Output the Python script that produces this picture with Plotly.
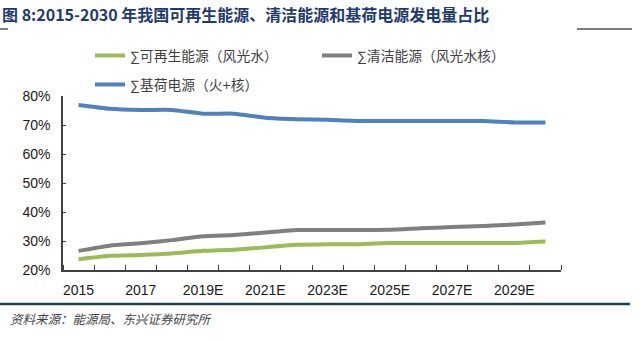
import plotly.graph_objects as go

categories = ["2015", "2016", "2017", "2018E", "2019E", "2020E", "2021E", "2022E",
              "2023E", "2024E", "2025E", "2026E", "2027E", "2028E", "2029E", "2030E"]
tick_labels = ["2015", "2017", "2019E", "2021E", "2023E", "2025E", "2027E", "2029E"]

renewable = [23.7, 24.9, 25.2, 25.7, 26.6, 27.0, 27.8, 28.7,
             28.9, 28.9, 29.3, 29.3, 29.3, 29.3, 29.3, 29.8]
clean = [26.6, 28.4, 29.2, 30.3, 31.6, 32.1, 32.9, 33.8,
         33.8, 33.8, 33.9, 34.4, 34.8, 35.2, 35.7, 36.4]
baseload = [76.9, 75.6, 75.2, 75.2, 73.9, 73.9, 72.5, 72.0,
            71.8, 71.4, 71.4, 71.4, 71.4, 71.4, 70.9, 70.9]

names = ["∑可再生能源（风光水）", "∑清洁能源（风光水核）", "∑基荷电源（火+核）"]
colors = ["#9BBB59", "#7F7F7F", "#4F81BD"]
y_ticks = [20, 30, 40, 50, 60, 70, 80]

xi = list(range(len(categories)))
tickpos = [categories.index(t) for t in tick_labels]

fig = go.Figure()
for vals, name, col, leg in zip([renewable, clean, baseload], names, colors,
                                ["legend", "legend2", "legend3"]):
    fig.add_trace(go.Scatter(
        x=xi, y=vals, name=name, mode="lines", showlegend=True,
        line=dict(color=col, width=4, shape="spline", smoothing=0.5),
        legend=leg, hoverinfo="skip"))

legend_font = dict(family="Liberation Sans, Noto Sans CJK SC", size=13.8, color="#404040")


def leg(xpx, ypx):
    return dict(orientation="h", xref="container", yref="container",
                x=xpx / 640, y=1 - ypx / 340, xanchor="left", yanchor="top",
                font=legend_font, bgcolor="rgba(0,0,0,0)", visible=True)


fig.update_layout(
    width=640, height=340, showlegend=True,
    margin=dict(l=63, r=79, t=96, b=70, autoexpand=False),
    paper_bgcolor="white", plot_bgcolor="white",
    legend=leg(90, 40),
    legend2=leg(317, 40),
    legend3=leg(90, 69),
    xaxis=dict(
        range=[-0.5, len(categories) - 0.5],
        tickmode="array", tickvals=tickpos, ticktext=tick_labels,
        ticks="", showgrid=False, zeroline=False,
        showline=True, linecolor="#404040", linewidth=1.5,
        tickfont=dict(family="Liberation Sans, Arial", size=14, color="#1a1a1a"),
        ticklabelstandoff=6,
        minor=dict(tickmode="array",
                   tickvals=[i - 0.5 for i in range(len(categories) + 1)],
                   ticks="inside", ticklen=5, tickwidth=1.2, tickcolor="#404040",
                   showgrid=False),
    ),
    yaxis=dict(
        range=[20, 80], tickmode="array", tickvals=y_ticks,
        ticktext=[f"{v}%" for v in y_ticks],
        ticks="inside", ticklen=3, tickwidth=1.2, tickcolor="#404040",
        showgrid=False, zeroline=False,
        showline=True, linecolor="#404040", linewidth=1.5,
        tickfont=dict(family="Liberation Sans, Arial", size=14, color="#1a1a1a"),
        ticklabelstandoff=8,
    ),
)

# title
fig.add_annotation(
    text="<b>图 8:2015-2030 年我国可再生能源、清洁能源和基荷电源发电量占比</b>",
    xref="paper", yref="paper", x=-63 / 498, y=1 + (96 - 14) / 174,
    xanchor="left", yanchor="middle", showarrow=False,
    font=dict(family="Noto Sans CJK SC", size=16, color="#1F3B6E"))
# source
fig.add_annotation(
    text="<i>资料来源：能源局、东兴证券研究所</i>",
    xref="paper", yref="paper", x=-55 / 498, y=-(318 - 270) / 174,
    xanchor="left", yanchor="middle", showarrow=False,
    font=dict(family="Noto Sans CJK SC", size=12.5, color="#444444"))

# decorative rules
fig.add_shape(type="line", xref="paper", yref="paper",
              x0=-63 / 498, x1=-55 / 498, y0=1 + (96 - 29) / 174, y1=1 + (96 - 29) / 174,
              line=dict(color="#555555", width=1.5))
fig.add_shape(type="line", xref="paper", yref="paper",
              x0=(577 - 63) / 498, x1=(632 - 63) / 498,
              y0=1 + (96 - 29) / 174, y1=1 + (96 - 29) / 174,
              line=dict(color="#555555", width=1.5))
fig.add_shape(type="line", xref="paper", yref="paper",
              x0=-63 / 498, x1=(630 - 63) / 498,
              y0=-(304 - 270) / 174, y1=-(304 - 270) / 174,
              line=dict(color="#1F4050", width=2.5))

fig.write_html("out.html")
